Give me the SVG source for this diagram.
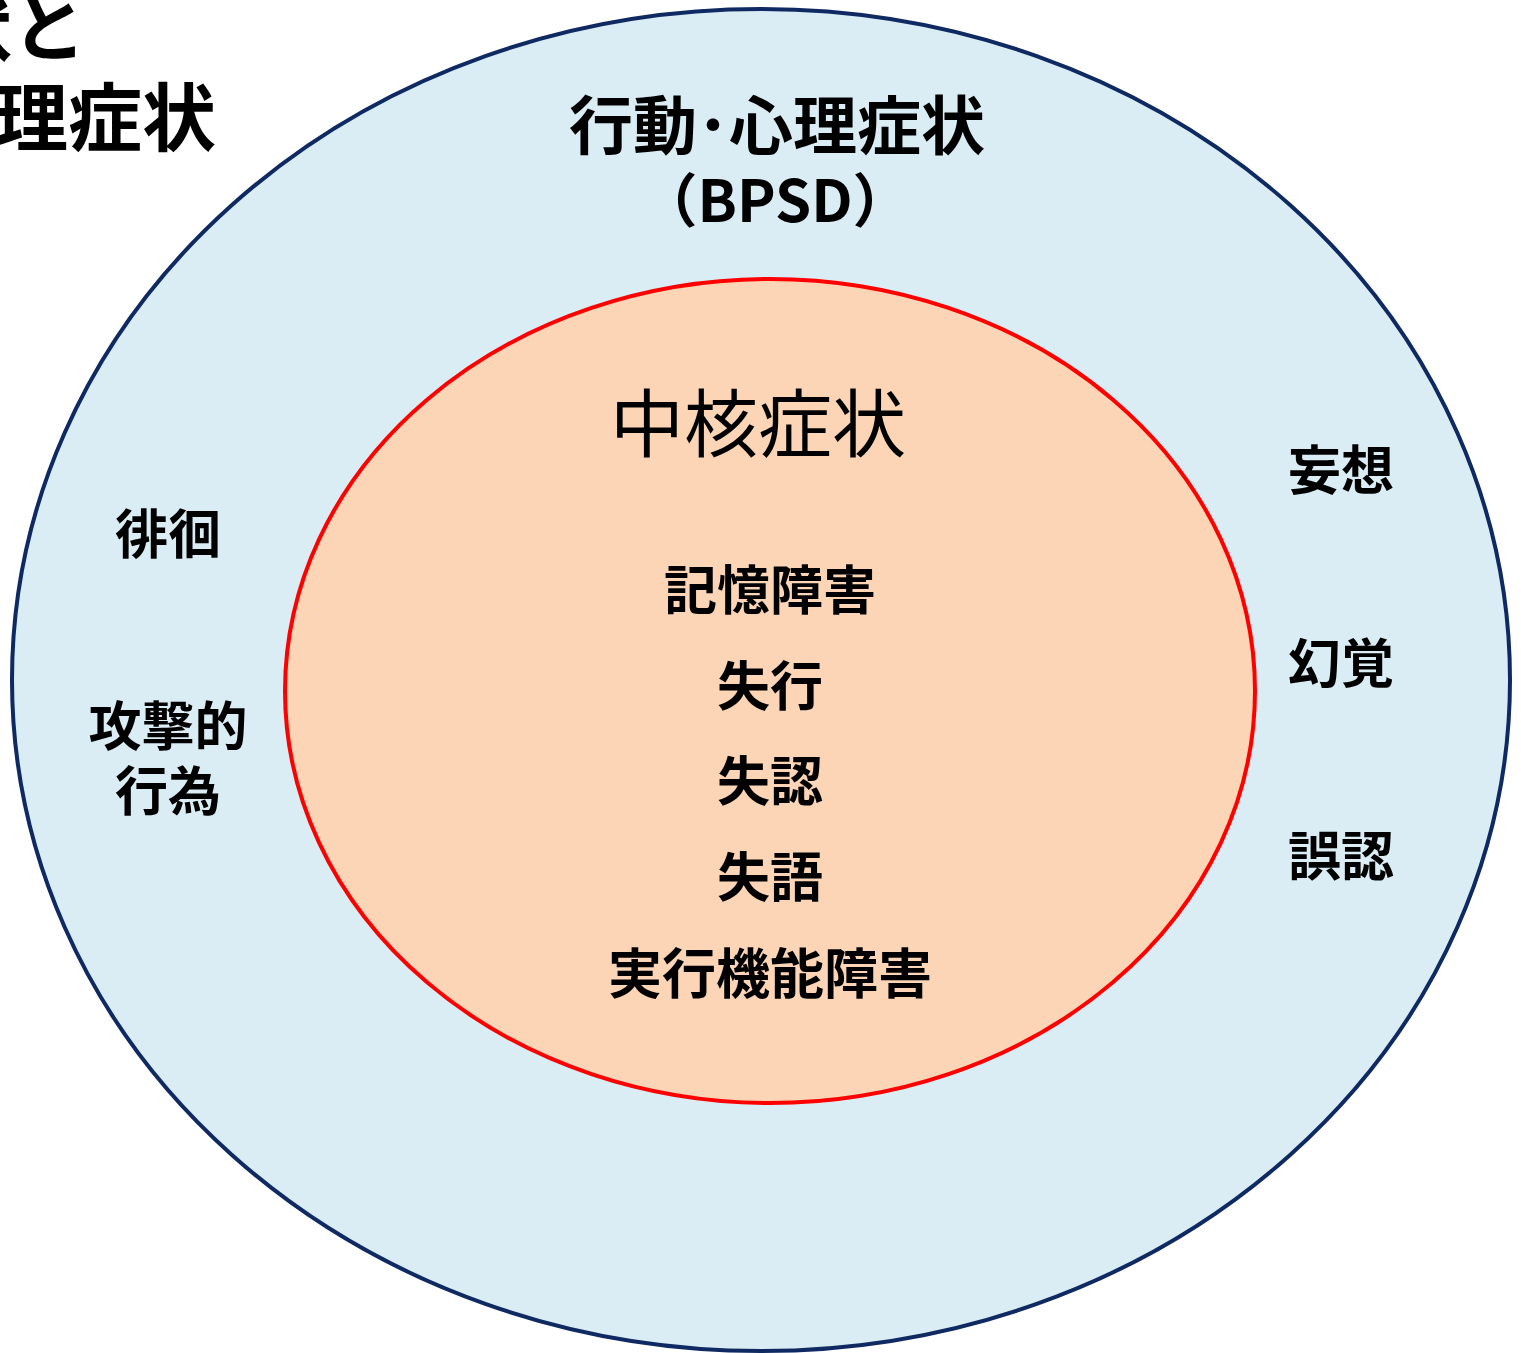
<svg xmlns="http://www.w3.org/2000/svg" width="1521" height="1353" viewBox="0 0 1521 1353">
<style>
text{font-family:"Noto Sans CJK JP","Noto Sans",sans-serif;fill:#000;text-anchor:middle}
.b{font-weight:bold}
.s52{font-size:53px}
</style>
<rect width="1521" height="1353" fill="#fff"/>
<g id="title">
<text class="b" x="86" y="55" font-size="74" style="text-anchor:end">状と</text>
<text class="b" x="216" y="145" font-size="74" style="text-anchor:end">理症状</text>
</g>
<g id="bpsd">
<ellipse cx="761" cy="680" rx="749" ry="671" fill="#daedf4" stroke="#0f2a62" stroke-width="4"/>
<text class="b" x="777" y="149" font-size="64">行動･心理症状</text>
<text class="b" x="775" y="222" font-size="58">（BPSD）</text>
<text class="b s52" x="168" y="554">徘徊</text>
<text class="b s52" x="168" y="746">攻撃的</text>
<text class="b s52" x="168" y="811">行為</text>
<text class="b s52" x="1341" y="490">妄想</text>
<text class="b s52" x="1341" y="683">幻覚</text>
<text class="b s52" x="1341" y="876">誤認</text>
</g>
<g id="core">
<ellipse cx="770" cy="691" rx="485" ry="412" fill="#fbd5b5" stroke="#ff0000" stroke-width="4"/>
<text x="758" y="451" font-size="74">中核症状</text>
<text class="b s52" x="770" y="610">記憶障害</text>
<text class="b s52" x="770" y="706">失行</text>
<text class="b s52" x="770" y="801">失認</text>
<text class="b s52" x="770" y="897">失語</text>
<text class="b" x="770" y="994" font-size="54">実行機能障害</text>
</g>
<g id="connectors"></g>
</svg>
